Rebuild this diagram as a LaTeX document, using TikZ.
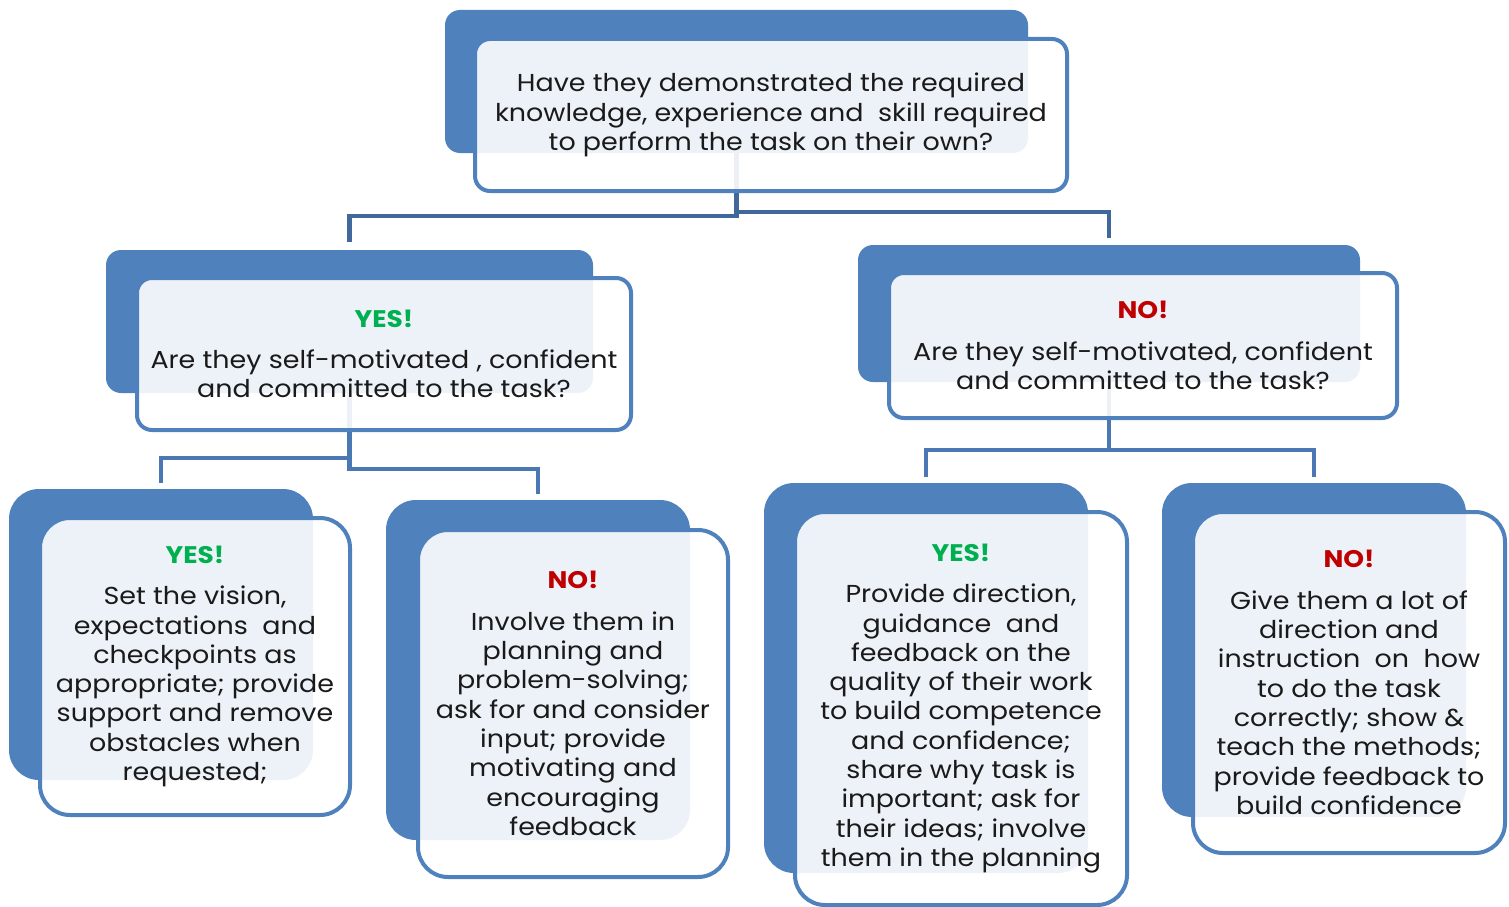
\documentclass[tikz,border=0pt]{standalone}
\usepackage{fontspec}
\setmainfont[FakeStretch=1.1]{Poppins}
\usetikzlibrary{calc}
\pgfdeclarelayer{bg}
\pgfsetlayers{bg,main}
\definecolor{bk}{HTML}{4F81BD}
\definecolor{fr}{HTML}{4F81BD}
\definecolor{cnA}{HTML}{41689B}
\definecolor{cnB}{HTML}{4A78B3}
\definecolor{txt}{HTML}{1A1A1A}
\definecolor{yescol}{HTML}{00B050}
\definecolor{nocol}{HTML}{C00000}
\newcommand{\yeshead}{{\fontsize{24}{29.3}\selectfont\bfseries\color{yescol}YES!}\\[12pt]}
\newcommand{\nohead}{{\fontsize{24}{29.3}\selectfont\bfseries\color{nocol}NO!}\\[12pt]}
\begin{document}
\begin{tikzpicture}[x=1pt,y=-1pt,
  backbox/.style={fill=bk, draw=none, rounded corners=#1, inner sep=0pt, outer sep=0pt},
  frontbox/.style={fill=white, fill opacity=0.9, text opacity=1, draw=fr, draw opacity=1,
    line width=4pt, rounded corners=#1, inner sep=0pt, outer sep=0pt, align=center,
    font=\fontsize{24.5}{29.3}\selectfont, text=txt},
  connA/.style={draw=cnA, line width=4.5pt},
  connB/.style={draw=cnB, line width=4.5pt}]
\useasboundingbox (0,0) rectangle (1509,907);
% top
\node[backbox=15pt, minimum width=583pt, minimum height=143pt] (topB) at (736.5,81.5) {};
\node[frontbox=15pt, minimum width=592pt, minimum height=152pt] (topF) at (771,115)
  {Have they demonstrated the required\\knowledge, experience and\ \ skill required\\to perform the task on their own?};
% middle left
\node[backbox=15pt, minimum width=487pt, minimum height=143pt] (LB) at (349.5,321.5) {};
\node[frontbox=15pt, minimum width=494pt, minimum height=152pt] (LF) at (384,354)
  {\yeshead Are they self-motivated , confident\\and committed to the task?};
% middle right
\node[backbox=15pt, minimum width=502pt, minimum height=137pt] (RB) at (1109,313.5) {};
\node[frontbox=15pt, minimum width=508pt, minimum height=145pt] (RF) at (1143,345.5)
  {\nohead Are they self-motivated, confident\\and committed to the task?};
% bottom LL
\node[backbox=30pt, minimum width=304pt, minimum height=291pt] (LLB) at (161,634.5) {};
\node[frontbox=30pt, minimum width=310pt, minimum height=297pt] (LLF) at (195,666.5)
  {\yeshead Set the vision,\\expectations\ \ and\\checkpoints as\\appropriate; provide\\support and remove\\obstacles when\\requested;};
% bottom LR
\node[backbox=30pt, minimum width=304pt, minimum height=340pt] (LRB) at (538,670) {};
\node[frontbox=30pt, minimum width=310pt, minimum height=347pt] (LRF) at (573,703.5)
  {\nohead Involve them in\\planning and\\problem-solving;\\ask for and consider\\input; provide\\motivating and\\encouraging\\feedback};
% bottom RL
\node[backbox=30pt, minimum width=324pt, minimum height=390pt] (RLB) at (926,678) {};
\node[frontbox=30pt, minimum width=332pt, minimum height=393pt] (RLF) at (961,708.5)
  {\yeshead Provide direction,\\guidance\ \ and\\feedback on the\\quality of their work\\to build competence\\and confidence;\\share why task is\\important; ask for\\their ideas; involve\\them in the planning};
% bottom RR
\node[backbox=30pt, minimum width=304pt, minimum height=334pt] (RRB) at (1314,650) {};
\node[frontbox=30pt, minimum width=312pt, minimum height=341pt] (RRF) at (1349,682.5)
  {\nohead Give them a lot of\\direction and\\instruction\ \ on\ \ how\\to do the task\\correctly; show \&\\teach the methods;\\provide feedback to\\build confidence};
% connectors
\begin{pgfonlayer}{bg}
\draw[connA, shorten >=8pt] (topB.south) -- ++(0,63) -| (LB.north);
\draw[connA, shorten >=7pt] (topB.south) -- ++(0,59) -| (RB.north);
\draw[connB, shorten >=6pt] (LB.south) -- ++(0,65) -| (LLB.north);
\draw[connB, shorten >=6pt] (LB.south) -- ++(0,76) -| (LRB.north);
\draw[connB, shorten >=6pt] (RB.south) -- ++(0,68) -| (RLB.north);
\draw[connB, shorten >=6pt] (RB.south) -- ++(0,68) -| (RRB.north);
\end{pgfonlayer}
\end{tikzpicture}
\end{document}
